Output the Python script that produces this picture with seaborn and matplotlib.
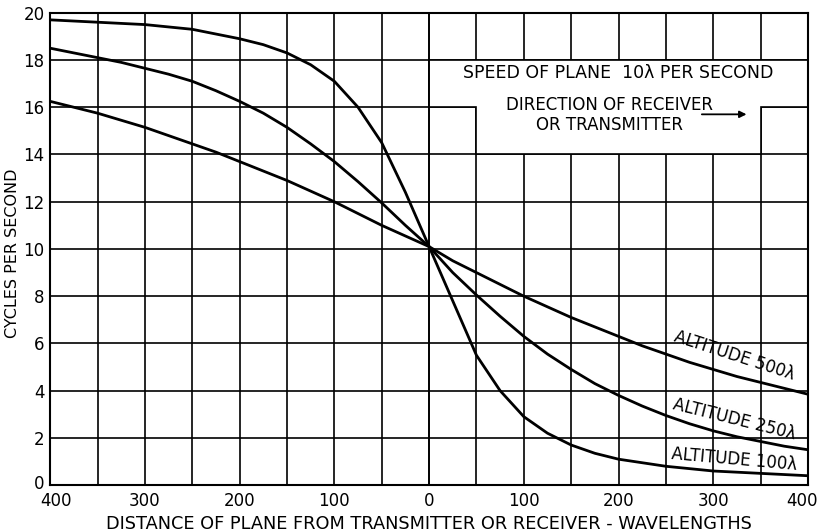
import numpy as np
import pandas as pd
import matplotlib.pyplot as plt
import seaborn as sns
from matplotlib.patches import Polygon
from matplotlib.transforms import ScaledTranslation

# distancia (negativo = antes de passar pelo transmissor)
distancia = list(range(-400, 401, 25))
alt_100 = [19.7, 19.65, 19.6, 19.55, 19.5, 19.4, 19.3, 19.1, 18.9, 18.65, 18.3, 17.8,
           17.1, 16.0, 14.5, 12.4, 10.1, 7.8, 5.5, 4.0, 2.9, 2.2, 1.7, 1.35,
           1.1, 0.95, 0.8, 0.7, 0.6, 0.55, 0.5, 0.45, 0.4]
alt_250 = [18.5, 18.3, 18.1, 17.9, 17.65, 17.4, 17.1, 16.7, 16.25, 15.75, 15.15, 14.45,
           13.7, 12.85, 11.95, 11.0, 10.1, 9.0, 8.05, 7.15, 6.3, 5.55, 4.9, 4.3,
           3.8, 3.35, 2.95, 2.6, 2.3, 2.05, 1.85, 1.65, 1.5]
alt_500 = [16.25, 16.0, 15.75, 15.45, 15.15, 14.8, 14.45, 14.1, 13.7, 13.3, 12.9, 12.45,
           12.0, 11.5, 11.0, 10.55, 10.1, 9.5, 9.0, 8.5, 8.0, 7.55, 7.1, 6.7,
           6.3, 5.9, 5.55, 5.2, 4.9, 4.6, 4.35, 4.1, 3.85]

xticks = [-400, -300, -200, -100, 0, 100, 200, 300, 400]
xtick_labels = ['400', '300', '200', '100', '0', '100', '200', '300', '400']
yticks = list(range(0, 21, 2))

df = pd.DataFrame({
    'x': distancia * 3,
    'y': alt_100 + alt_250 + alt_500,
    'alt': ['100'] * len(distancia) + ['250'] * len(distancia) + ['500'] * len(distancia),
})

sns.set_style('white')
plt.rcParams['font.family'] = ['DejaVu Sans']
plt.rcParams['text.color'] = 'black'
plt.rcParams['axes.labelcolor'] = 'black'
plt.rcParams['xtick.color'] = 'black'
plt.rcParams['ytick.color'] = 'black'

fig = plt.figure(figsize=(8.22, 5.32), dpi=100)
ax = fig.add_axes([0.061, 0.088, 0.922, 0.888])

sns.lineplot(data=df, x='x', y='y', hue='alt', palette=['black'] * 3,
             legend=False, linewidth=2.0, ax=ax, zorder=5)

# grade
for gx in range(-350, 400, 50):
    ax.axvline(gx, color='black', lw=1.2, zorder=1)
for gy in range(2, 20, 2):
    ax.axhline(gy, color='black', lw=1.2, zorder=1)

# caixa branca do texto
caixa = Polygon([(0, 18), (400, 18), (400, 16), (350, 16), (350, 14),
                 (50, 14), (50, 16), (0, 16)], closed=True,
                facecolor='white', edgecolor='black', lw=1.2, zorder=2)
ax.add_patch(caixa)
ax.axvline(0, color='black', lw=1.2, zorder=3)

fs = 12
ax.text(200, 17.45, 'SPEED OF PLANE  10λ PER SECOND', ha='center', va='center',
        fontsize=12.5, zorder=4)
ax.text(190, 16.1, 'DIRECTION OF RECEIVER', ha='center', va='center',
        fontsize=fs, zorder=4)
ax.text(190, 15.25, 'OR TRANSMITTER', ha='center', va='center',
        fontsize=fs, zorder=4)
ax.annotate('', xy=(338, 15.7), xytext=(285, 15.7),
            arrowprops=dict(arrowstyle='-|>', color='black', lw=1.3), zorder=4)

# rotulos das curvas
ax.text(322, 5.5, 'ALTITUDE 500λ', rotation=-18, ha='center', va='center',
        fontsize=fs, zorder=6)
ax.text(322, 2.8, 'ALTITUDE 250λ', rotation=-14, ha='center', va='center',
        fontsize=fs, zorder=6)
ax.text(322, 1.1, 'ALTITUDE 100λ', rotation=-5, ha='center', va='center',
        fontsize=fs, zorder=6)

ax.set_xlim(-400, 400)
ax.set_ylim(0, 20)
ax.set_xticks(xticks)
ax.set_xticklabels(xtick_labels, fontsize=12)
ax.set_yticks(yticks)
ax.set_yticklabels([str(v) for v in yticks], fontsize=12)
ax.tick_params(axis='x', length=0, pad=5)
ax.tick_params(axis='y', length=0, pad=4)

# 400 das pontas um pouco para dentro, e o 0 do eixo y um pouco acima
labs = ax.get_xticklabels()
labs[0].set_transform(labs[0].get_transform() + ScaledTranslation(6 / 100, 0, fig.dpi_scale_trans))
labs[-1].set_transform(labs[-1].get_transform() + ScaledTranslation(-6 / 100, 0, fig.dpi_scale_trans))
ylabs = ax.get_yticklabels()
ylabs[0].set_transform(ylabs[0].get_transform() + ScaledTranslation(0, 3 / 100, fig.dpi_scale_trans))

ax.set_xlabel('DISTANCE OF PLANE FROM TRANSMITTER OR RECEIVER - WAVELENGTHS',
              fontsize=12.8, va='center')
ax.xaxis.set_label_coords(0.5, -0.082)
ax.set_ylabel('CYCLES PER SECOND', fontsize=11.5, va='center')
ax.yaxis.set_label_coords(-0.05, 0.49)
for s in ax.spines.values():
    s.set_color('black')
    s.set_linewidth(1.5)

fig.savefig('out.png', dpi=100)
